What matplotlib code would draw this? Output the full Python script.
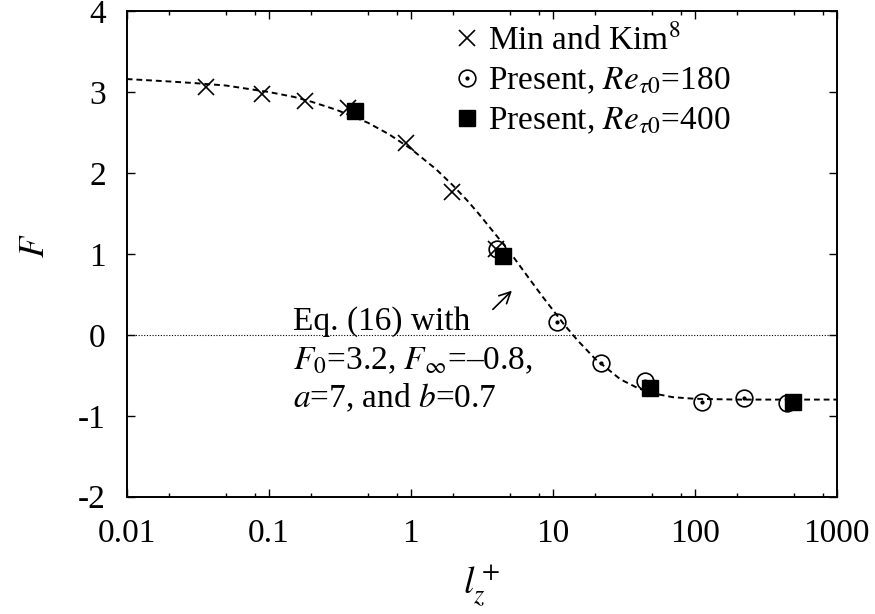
import matplotlib
matplotlib.use("Agg")
import matplotlib.pyplot as plt
from matplotlib.ticker import FixedLocator, NullFormatter, FixedFormatter

plt.rcParams['font.family'] = ['Liberation Serif', 'DejaVu Serif']
plt.rcParams['mathtext.fontset'] = 'stix'

# Min and Kim data
mk_x = [0.0363, 0.090, 0.181, 0.362, 0.927, 1.95, 3.98]
mk_y = [3.06, 2.97, 2.89, 2.80, 2.37, 1.76, 1.06]

# Present, Re_tau0 = 180
p180_x = [4.05, 10.7, 21.8, 44.5, 112, 224, 450]
p180_y = [1.06, 0.16, -0.35, -0.57, -0.83, -0.78, -0.84]

# Present, Re_tau0 = 400
p400_x = [0.406, 4.46, 48.2, 489]
p400_y = [2.76, 0.97, -0.66, -0.83]

# Fitted curve (Eq. 16)
fit_x = [0.01, 0.02, 0.03, 0.05, 0.1, 0.15, 0.2, 0.3, 0.5, 0.7, 1, 1.5, 2, 2.5, 3, 4, 5,
         6, 7, 8.5, 10, 12, 15, 20, 30, 40, 50, 70, 100, 200, 1000]
fit_y = [3.16, 3.13, 3.11, 3.08, 3.00, 2.94, 2.88, 2.78, 2.62, 2.48, 2.30, 2.05, 1.84, 1.66,
         1.50, 1.23, 1.02, 0.83, 0.67, 0.47, 0.31, 0.13, -0.07, -0.30, -0.55, -0.66, -0.72,
         -0.77, -0.79, -0.80, -0.80]

x_ticks = [0.01, 0.1, 1, 10, 100, 1000]
x_tick_labels = ['0.01', '0.1', '1', '10', '100', '1000']
y_ticks = [-2, -1, 0, 1, 2, 3, 4]
y_tick_labels = ['-2', '-1', '0', '1', '2', '3', '4']

legend_labels = ['Min and Kim$^8$', r'Present, $Re_{\tau 0}$=180', r'Present, $Re_{\tau 0}$=400']
annot_lines = ['Eq. (16) with', r'$F_0$=3.2, $F_\infty$=–0.8,', r'$a$=7, and $b$=0.7']

fig = plt.figure(figsize=(8.75, 6.14), dpi=100)
ax = fig.add_axes([0.1448, 0.191, 0.8114, 0.791])

ax.set_xscale('log')
ax.set_xlim(0.01, 1000)
ax.set_ylim(-2, 4)

ax.axhline(0, color='black', lw=0.8, ls=(0, (1, 1.5)), zorder=1)
ax.plot(fit_x, fit_y, color='black', lw=1.4, ls=(0, (3, 2)), zorder=2)

h_mk, = ax.plot(mk_x, mk_y, ls='none', marker='x', ms=12, mew=1.2, color='black', zorder=3)
h_c, = ax.plot(p180_x, p180_y, ls='none', marker='o', ms=12, mfc='none', mew=1.2,
               color='black', zorder=3)
h_d, = ax.plot(p180_x, p180_y, ls='none', marker='o', ms=2, color='black', zorder=3)
h_s, = ax.plot(p400_x, p400_y, ls='none', marker='s', ms=12, color='black', zorder=4)

leg = ax.legend([h_mk, (h_c, h_d), h_s], legend_labels,
                loc='upper left', bbox_to_anchor=(0.465, 0.973), frameon=False, fontsize=24,
                handlelength=0.6, handletextpad=0.33, labelspacing=0.28, borderpad=0.0,
                borderaxespad=0.0)

ax.xaxis.set_major_locator(FixedLocator(x_ticks))
ax.xaxis.set_major_formatter(FixedFormatter(x_tick_labels))
minor = []
for d in [0.01, 0.1, 1, 10, 100]:
    for m in [2, 5, 8]:
        minor.append(d * m)
ax.xaxis.set_minor_locator(FixedLocator(minor))
ax.xaxis.set_minor_formatter(NullFormatter())
ax.yaxis.set_major_locator(FixedLocator(y_ticks))
ax.yaxis.set_major_formatter(FixedFormatter(y_tick_labels))

ax.tick_params(which='both', direction='in', top=True, right=True, labelsize=24, width=1.0)
ax.tick_params(which='major', length=6)
ax.tick_params(which='minor', length=3)
ax.tick_params(axis='x', which='major', pad=16)
ax.tick_params(axis='y', which='major', pad=15)
for s in ax.spines.values():
    s.set_linewidth(1.4)

ax.set_xlabel(r'$l_z^+$', fontsize=27)
ax.xaxis.set_label_coords(0.5, -0.135)
ax.set_ylabel(r'$F$', fontsize=25)
ax.yaxis.set_label_coords(-0.105, 0.516)

ax.text(0.149, 0.06, annot_lines[0], fontsize=24, ha='left', va='baseline')
ax.text(0.149, -0.42, annot_lines[1], fontsize=24, ha='left', va='baseline')
ax.text(0.149, -0.89, annot_lines[2], fontsize=24, ha='left', va='baseline')
ax.annotate('', xy=(5.33, 0.57), xytext=(3.67, 0.29),
            arrowprops=dict(arrowstyle='->', color='black', lw=1.2, mutation_scale=20))

fig.savefig('out.png', dpi=100)
